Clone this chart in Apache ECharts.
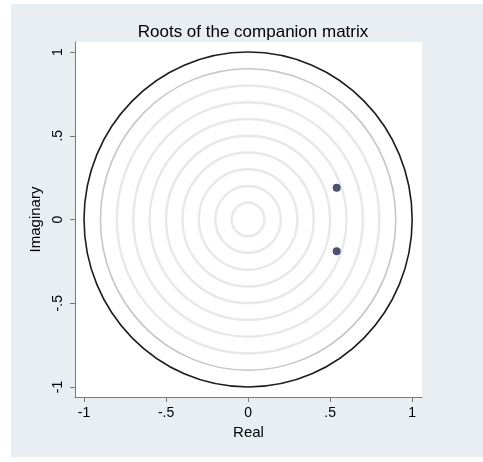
<!DOCTYPE html>
<html>
<head>
<meta charset="utf-8">
<script src="https://cdn.jsdelivr.net/npm/echarts@6/dist/echarts.min.js"></script>
<style>
  html, body { margin:0; padding:0; background:#ffffff; }
  #bg { position:absolute; left:11px; top:4px; width:472px; height:453px; background:#e9eef3; }
  #chart { position:absolute; left:0; top:0; width:483px; height:462px; }
</style>
</head>
<body>
<div id="bg"></div>
<div id="chart"></div>
<script>
// ---- data ----
var titleText = 'Roots of the companion matrix';
var rootsReal = [0.54, 0.54];
var rootsImag = [0.19, -0.19];
var circleRadii = [1, 0.9, 0.8, 0.7, 0.6, 0.5, 0.4, 0.3, 0.2, 0.1];
var tickValues = [-1, -0.5, 0, 0.5, 1];
var tickLabels = ['-1', '-.5', '0', '.5', '1'];

function fmt(v) {
  for (var i = 0; i < tickValues.length; i++) {
    if (Math.abs(tickValues[i] - v) < 1e-9) return tickLabels[i];
  }
  return '';
}

var rootPoints = rootsReal.map(function (x, i) { return [x, rootsImag[i]]; });
var circleData = circleRadii.map(function (r) { return [r]; });

var chart = echarts.init(document.getElementById('chart'), null, { renderer: 'canvas' });
var fontFam = '"Liberation Sans", Arial, Helvetica, sans-serif';

chart.setOption({
  backgroundColor: 'transparent',
  animation: false,
  title: {
    text: titleText,
    left: 248, top: 19, textAlign: 'center',
    textStyle: { fontFamily: fontFam, fontSize: 17, fontWeight: 'normal', color: '#000' }
  },
  grid: {
    left: 75, right: 61, top: 42, bottom: 65,
    show: true, backgroundColor: '#ffffff', borderWidth: 0,
    outerBoundsMode: 'none', containLabel: false
  },
  xAxis: {
    type: 'value', min: -1.055, max: 1.06,
    name: 'Real', nameLocation: 'middle', nameGap: 25,
    nameTextStyle: { fontFamily: fontFam, fontSize: 15, color: '#000' },
    axisLine: { show: true, onZero: false, lineStyle: { color: '#7a7a7a', width: 1 } },
    axisTick: { show: true, inside: false, length: 5, customValues: tickValues, lineStyle: { color: '#7a7a7a' } },
    axisLabel: { customValues: tickValues, formatter: fmt, margin: 9, fontFamily: fontFam, fontSize: 14, color: '#000' },
    splitLine: { show: false }
  },
  yAxis: {
    type: 'value', min: -1.06, max: 1.06,
    name: 'Imaginary', nameLocation: 'middle', nameGap: 29, nameRotate: 90,
    nameTextStyle: { fontFamily: fontFam, fontSize: 15, color: '#000' },
    axisLine: { show: true, onZero: false, lineStyle: { color: '#7a7a7a', width: 1 } },
    axisTick: { show: true, inside: false, length: 5, customValues: tickValues, lineStyle: { color: '#7a7a7a' } },
    axisLabel: { customValues: tickValues, formatter: fmt, rotate: 90, margin: 10, fontFamily: fontFam, fontSize: 14, color: '#000' },
    splitLine: { show: false }
  },
  series: [
    {
      type: 'custom',
      coordinateSystem: 'cartesian2d',
      data: circleData,
      silent: true,
      clip: false,
      z: 1,
      renderItem: function (params, api) {
        var r = api.value(0);
        var c = api.coord([0, 0]);
        var s = api.size([r, r]);
        var idx = params.dataIndex;
        var stroke = idx === 0 ? '#1e1e1e' : (idx === 1 ? '#c6c6c6' : '#e8e8e8');
        var lw = idx === 0 ? 1.6 : (idx === 1 ? 1.6 : 2.4);
        return {
          type: 'ellipse',
          shape: { cx: c[0], cy: c[1], rx: s[0], ry: s[1] },
          style: { fill: null, stroke: stroke, lineWidth: lw }
        };
      }
    },
    {
      type: 'scatter',
      data: rootPoints,
      symbol: 'circle',
      symbolSize: 8,
      z: 3,
      itemStyle: { color: '#222550', borderWidth: 0 }
    }
  ]
});
</script>
</body>
</html>
